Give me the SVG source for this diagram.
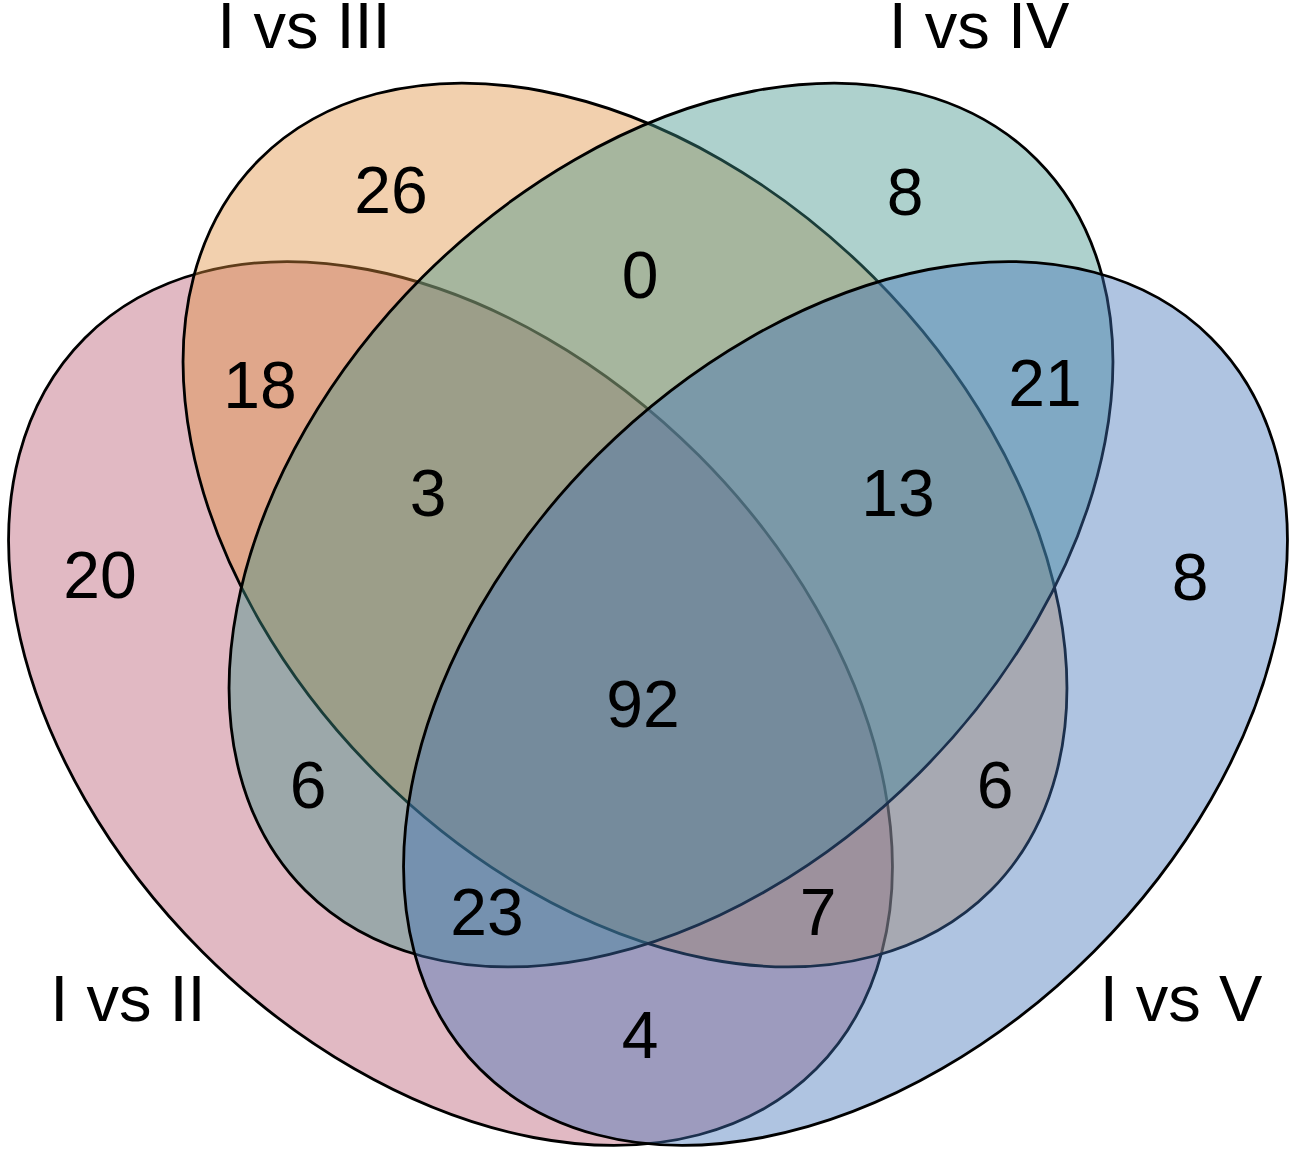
<svg xmlns="http://www.w3.org/2000/svg" width="1300" height="1165" viewBox="0 0 1300 1165">
<style>
.set{fill-opacity:0.42;stroke:#000;stroke-width:2.8}
.num{font-family:"Liberation Sans",Arial,sans-serif;font-size:66px;fill:#000;text-anchor:middle}
.lab{font-family:"Liberation Sans",Arial,sans-serif;font-size:65px;fill:#000;text-anchor:middle}
</style>
<rect width="1300" height="1165" fill="#fff"/>
<g id="set-I-vs-II"><ellipse class="set" cx="450.5" cy="703.5" rx="517" ry="351" transform="rotate(45 450.5 703.5)" fill="#B85870"/></g>
<g id="set-I-vs-III"><ellipse class="set" cx="625" cy="525" rx="517" ry="351" transform="rotate(45 625 525)" fill="#E08F3E"/></g>
<g id="set-I-vs-IV"><ellipse class="set" cx="671" cy="525" rx="517" ry="351" transform="rotate(-45 671 525)" fill="#3E9288"/></g>
<g id="set-I-vs-V"><ellipse class="set" cx="845.5" cy="703.5" rx="517" ry="351" transform="rotate(-45 845.5 703.5)" fill="#4072B8"/></g>
<g id="counts">
<text class="num" x="391" y="213">26</text>
<text class="num" x="640" y="298">0</text>
<text class="num" x="905" y="215">8</text>
<text class="num" x="260" y="408">18</text>
<text class="num" x="1045" y="406">21</text>
<text class="num" x="428" y="516">3</text>
<text class="num" x="898" y="516">13</text>
<text class="num" x="100" y="598">20</text>
<text class="num" x="1190" y="600">8</text>
<text class="num" x="643" y="727">92</text>
<text class="num" x="308" y="808">6</text>
<text class="num" x="995" y="808">6</text>
<text class="num" x="487" y="935">23</text>
<text class="num" x="818" y="935">7</text>
<text class="num" x="640" y="1058">4</text>
</g>
<g id="labels">
<text class="lab" x="304" y="48">I vs III</text>
<text class="lab" x="979" y="48">I vs IV</text>
<text class="lab" x="128" y="1021">I vs II</text>
<text class="lab" x="1181" y="1021">I vs V</text>
</g>
</svg>
